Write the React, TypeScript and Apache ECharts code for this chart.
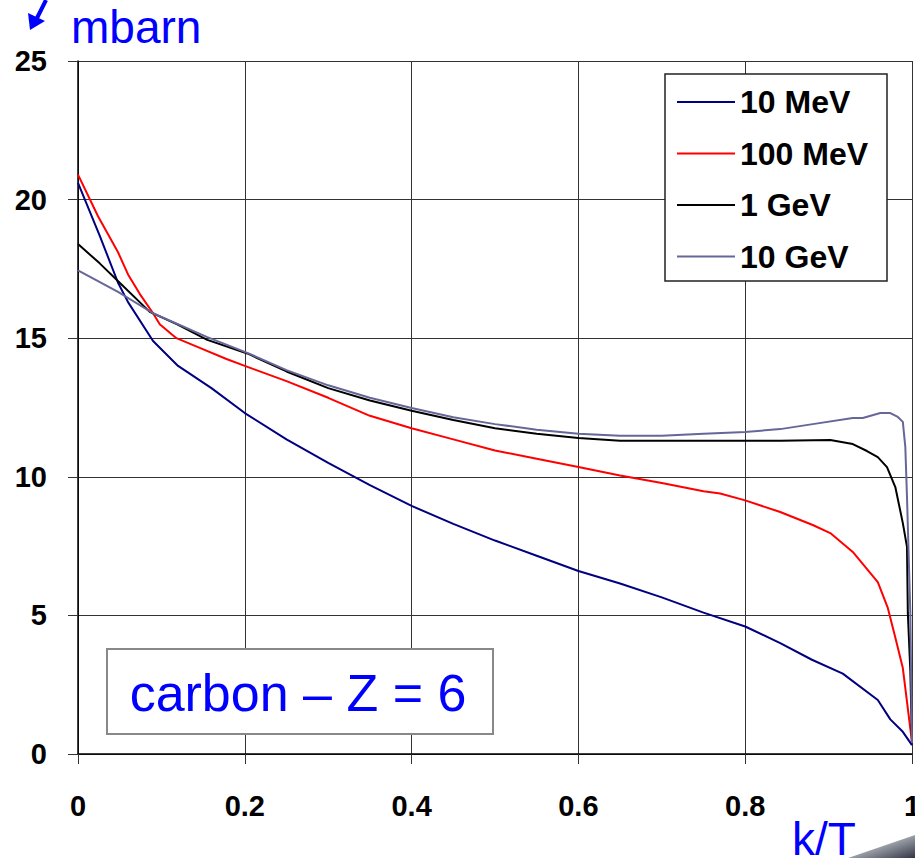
import React, { useEffect, useRef } from "react";
import * as echarts from "echarts";

const seriesNames = ["10 MeV", "100 MeV", "1 GeV", "10 GeV"];
const seriesColors = ["#000080", "#ff0000", "#000000", "#666699"];

const mev10: number[][] = [
  [0, 20.6], [0.026, 18.7], [0.048, 17.0], [0.06, 16.3], [0.09, 14.9], [0.12, 14.0],
  [0.16, 13.2], [0.2, 12.3], [0.25, 11.35], [0.3, 10.5], [0.35, 9.7], [0.4, 8.95],
  [0.45, 8.3], [0.5, 7.7], [0.55, 7.15], [0.6, 6.6], [0.65, 6.15], [0.7, 5.65],
  [0.75, 5.1], [0.8, 4.6], [0.842, 4.0], [0.88, 3.4], [0.917, 2.9], [0.959, 1.95],
  [0.974, 1.25], [0.989, 0.8], [1.0, 0.32],
];
const mev100: number[][] = [
  [0, 20.9], [0.024, 19.4], [0.048, 18.1], [0.06, 17.3], [0.074, 16.6], [0.09, 15.9],
  [0.098, 15.5], [0.118, 15.0], [0.146, 14.65], [0.178, 14.25], [0.2, 14.0], [0.25, 13.45],
  [0.3, 12.85], [0.35, 12.2], [0.4, 11.75], [0.45, 11.35], [0.5, 10.95], [0.55, 10.65],
  [0.6, 10.35], [0.65, 10.05], [0.7, 9.78], [0.75, 9.48], [0.77, 9.4], [0.8, 9.15],
  [0.842, 8.73], [0.881, 8.26], [0.902, 7.97], [0.929, 7.29], [0.959, 6.2], [0.971, 5.27],
  [0.98, 4.2], [0.989, 3.1], [1.0, 0.43],
];
const gev1: number[][] = [
  [0, 18.4], [0.026, 17.7], [0.05, 17.0], [0.086, 15.95], [0.119, 15.5], [0.155, 14.94],
  [0.203, 14.45], [0.25, 13.8], [0.3, 13.2], [0.35, 12.75], [0.4, 12.38], [0.45, 12.05],
  [0.5, 11.75], [0.55, 11.55], [0.6, 11.4], [0.65, 11.3], [0.7, 11.3], [0.75, 11.3],
  [0.8, 11.3], [0.842, 11.3], [0.902, 11.33], [0.929, 11.18], [0.946, 10.93], [0.959, 10.71],
  [0.97, 10.35], [0.98, 9.63], [0.989, 8.33], [0.994, 7.47], [0.995, 5.09], [0.998, 3.0],
  [1.0, 0.4],
];
const gev10: number[][] = [
  [0, 17.45], [0.048, 16.67], [0.09, 15.9], [0.155, 15.04], [0.203, 14.47], [0.25, 13.85],
  [0.3, 13.3], [0.35, 12.85], [0.4, 12.48], [0.45, 12.15], [0.5, 11.9], [0.55, 11.7],
  [0.6, 11.55], [0.65, 11.48], [0.7, 11.48], [0.75, 11.55], [0.8, 11.62], [0.842, 11.72],
  [0.881, 11.9], [0.929, 12.12], [0.941, 12.12], [0.962, 12.3], [0.974, 12.3], [0.983, 12.16],
  [0.989, 11.98], [0.992, 11.07], [0.994, 9.27], [0.998, 5.09], [1.0, 0.4],
];
const seriesData = [mev10, mev100, gev1, gev10];

const FONT = "'Liberation Sans', Arial, sans-serif";

export default function App() {
  const ref = useRef<HTMLDivElement>(null);
  useEffect(() => {
    if (!ref.current) return;
    const chart = echarts.init(ref.current, null, { renderer: "svg" });
    chart.setOption({
      animation: false,
      backgroundColor: "#ffffff",
      grid: { left: 78, right: 3, top: 61, bottom: 104, containLabel: false, outerBoundsMode: "none" },
      xAxis: {
        type: "value",
        min: 0,
        max: 1,
        interval: 0.2,
        axisLine: { show: true, lineStyle: { color: "#000", width: 1.5 } },
        axisTick: { show: true, length: 10, lineStyle: { color: "#333" } },
        splitLine: { show: true, lineStyle: { color: "#333", width: 1 } },
        axisLabel: { fontFamily: FONT, fontWeight: "bold", fontSize: 29, color: "#000", margin: 37 },
      },
      yAxis: {
        type: "value",
        min: 0,
        max: 25,
        interval: 5,
        axisLine: { show: true, lineStyle: { color: "#000", width: 1.5 } },
        axisTick: { show: true, length: 10, lineStyle: { color: "#333" } },
        splitLine: { show: true, lineStyle: { color: "#333", width: 1 } },
        axisLabel: { fontFamily: FONT, fontWeight: "bold", fontSize: 29, color: "#000", margin: 31 },
      },
      legend: {
        orient: "vertical",
        left: 677,
        top: 86,
        padding: 0,
        itemWidth: 58,
        itemHeight: 2,
        itemGap: 19.5,
        icon: "rect",
        data: seriesNames,
        textStyle: { fontFamily: FONT, fontWeight: "bold", fontSize: 32, lineHeight: 32, color: "#000" },
      },
      series: seriesNames.map((name, i) => ({
        name,
        type: "line",
        data: seriesData[i],
        showSymbol: false,
        symbol: "none",
        lineStyle: { color: seriesColors[i], width: 2 },
        itemStyle: { color: seriesColors[i] },
      })),
      graphic: [
        {
          type: "rect",
          z: 3,
          shape: { x: 665, y: 74, width: 222, height: 207 },
          style: { fill: "#fff", stroke: "#222", lineWidth: 1.5 },
        },
        {
          type: "rect",
          z: 3,
          shape: { x: 107, y: 649, width: 386, height: 85 },
          style: { fill: "#fff", stroke: "#888", lineWidth: 2 },
        },
        {
          type: "text",
          z: 4,
          x: 298,
          y: 693,
          style: {
            text: "carbon – Z = 6",
            font: `52px ${FONT}`,
            fill: "#0000ff",
            textAlign: "center",
            textVerticalAlign: "middle",
          },
        },
        {
          type: "text",
          z: 4,
          x: 71,
          y: 27,
          style: {
            text: "mbarn",
            font: `46px ${FONT}`,
            fill: "#0000ff",
            textAlign: "left",
            textVerticalAlign: "middle",
          },
        },
        {
          type: "text",
          z: 4,
          x: 792,
          y: 839,
          style: {
            text: "k/T",
            font: `46px ${FONT}`,
            fill: "#0000ff",
            textAlign: "left",
            textVerticalAlign: "middle",
          },
        },
        {
          type: "line",
          z: 4,
          shape: { x1: 46, y1: 0, x2: 36, y2: 20 },
          style: { stroke: "#0000ff", lineWidth: 4 },
        },
        {
          type: "polygon",
          z: 4,
          shape: { points: [[30, 30], [28, 13], [45, 21]] },
          style: { fill: "#0000ff" },
        },
        {
          type: "polygon",
          z: 4,
          shape: { points: [[848, 858], [915, 835], [915, 858]] },
          style: {
            fill: new echarts.graphic.LinearGradient(0, 0, 1, 1, [
              { offset: 0, color: "#d0d0d0" },
              { offset: 0.5, color: "#9aa0a8" },
              { offset: 1, color: "#334" },
            ]),
          },
        },
      ],
    });
    return () => chart.dispose();
  }, []);
  return (
    <div
      ref={ref}
      style={{ position: "fixed", left: 0, top: 0, width: 915, height: 858 }}
    />
  );
}
